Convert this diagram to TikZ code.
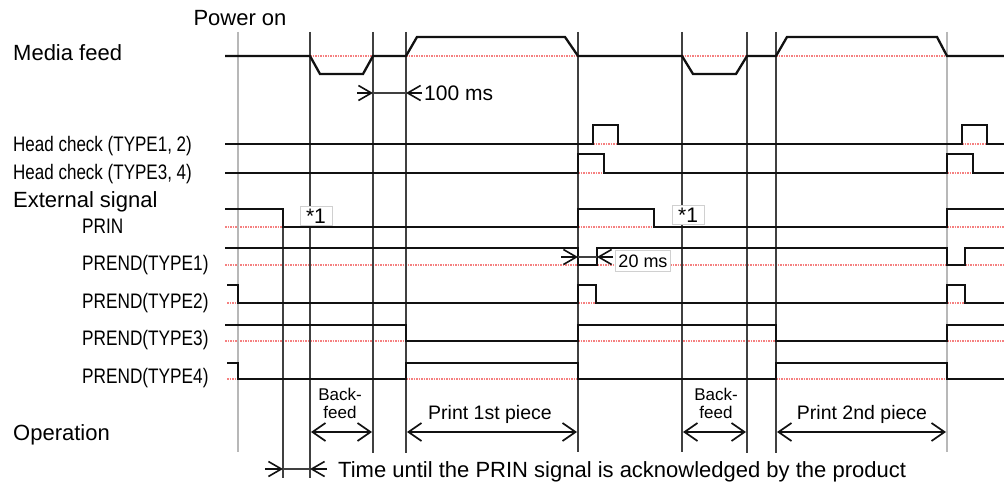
\documentclass[tikz,border=0pt]{standalone}
\usepackage{fontspec}
\setmainfont{Liberation Sans}
\usetikzlibrary{arrows.meta}
\definecolor{sigc}{HTML}{111111}
\definecolor{gridc}{HTML}{404040}
\definecolor{gridl}{HTML}{B8B8B8}
\definecolor{basec}{HTML}{F58080}
\definecolor{boxc}{HTML}{D0D0D0}
\newcommand\cnd[1]{\scalebox{0.82}[1]{#1}}
\newcommand\hcd[1]{\scalebox{0.81}[1]{#1}}
\begin{document}
\begin{tikzpicture}[x=1pt,y=-1pt,
  sig/.style={line width=2.3pt,draw=sigc,line join=miter},
  vl/.style={line width=1.2pt,draw=gridc},
  vlt/.style={line width=2.6pt,draw=gridl},
  bl/.style={line width=1.2pt,draw=basec,dash pattern=on 1.5pt off 1pt},
  lab/.style={font=\fontsize{22}{26}\selectfont,anchor=base west,inner sep=0pt},
  slab/.style={font=\fontsize{21}{24}\selectfont,anchor=base west,inner sep=0pt},
  oplab/.style={font=\fontsize{19.5}{22}\selectfont,anchor=base,inner sep=0pt},
  bflab/.style={font=\fontsize{17}{18}\selectfont,align=center,anchor=center,inner sep=0pt},
  tagbox/.style={draw=boxc,fill=white,line width=0.8pt,inner xsep=6pt,inner ysep=2pt,text depth=0pt},
  opa/.style={line width=1.7pt,draw=sigc,{Straight Barb[length=13pt,width=18pt]}-{Straight Barb[length=13pt,width=18pt]}},
  dar/.style={line width=1.6pt,draw=sigc,-{Straight Barb[length=13pt,width=15pt]}},
  dln/.style={line width=1.2pt,draw=gridc}]
\useasboundingbox (0,0) rectangle (1004,487);
\fill[white] (0,0) rectangle (1004,487);

% baselines (red dotted)
\draw[bl] (310,56) -- (373,56);
\draw[bl] (406,56) -- (578,56);
\draw[bl] (682,56) -- (747,56);
\draw[bl] (776,56) -- (947,56);
\draw[bl] (593,144) -- (618,144);
\draw[bl] (962,144) -- (987,144);
\draw[bl] (578,173) -- (604,173);
\draw[bl] (947,173) -- (973,173);
\draw[bl] (225,227) -- (283,227);
\draw[bl] (578,227) -- (654,227);
\draw[bl] (947,227) -- (1004,227);
\draw[bl] (225,265) -- (1004,265);
\draw[bl] (227,303) -- (238,303);
\draw[bl] (578,303) -- (596,303);
\draw[bl] (947,303) -- (965,303);
\draw[bl] (225,341) -- (406,341);
\draw[bl] (578,341) -- (776,341);
\draw[bl] (947,341) -- (1004,341);
\draw[bl] (227,379) -- (238,379);
\draw[bl] (406,379) -- (578,379);
\draw[bl] (776,379) -- (947,379);

% vertical lines
\draw[vlt] (238,32) -- (238,452);
\draw[vlt] (947,32) -- (947,452);
\draw[vl] (283,209) -- (283,478);
\draw[vl] (310,32) -- (310,478);
\draw[vl] (373,32) -- (373,453);
\draw[vl] (406,32) -- (406,453);
\draw[vl] (578,32) -- (578,452);
\draw[vl] (682,32) -- (682,452);
\draw[vl] (747,32) -- (747,453);
\draw[vl] (776,32) -- (776,453);

% signals
\draw[sig] (225,56) -- (310,56) -- (320,74) -- (363,74) -- (373,56) -- (406,56) -- (417,37) -- (565,37) -- (578,56) -- (682,56) -- (693,74) -- (736,74) -- (747,56) -- (776,56) -- (787,37) -- (937,37) -- (947,56) -- (1004,56);
\draw[sig] (225,144) -- (593,144) -- (593,125) -- (618,125) -- (618,144) -- (962,144) -- (962,125) -- (987,125) -- (987,144) -- (1004,144);
\draw[sig] (225,173) -- (578,173) -- (578,154) -- (604,154) -- (604,173) -- (947,173) -- (947,154) -- (973,154) -- (973,173) -- (1004,173);
\draw[sig] (225,209) -- (283,209) -- (283,227) -- (578,227) -- (578,209) -- (654,209) -- (654,227) -- (947,227) -- (947,209) -- (1004,209);
\draw[sig] (225,248) -- (578,248) -- (578,265) -- (597,265) -- (597,248) -- (947,248) -- (947,265) -- (965,265) -- (965,248) -- (1004,248);
\draw[sig] (227,285) -- (238,285) -- (238,303) -- (578,303) -- (578,285) -- (596,285) -- (596,303) -- (947,303) -- (947,285) -- (965,285) -- (965,303) -- (1004,303);
\draw[sig] (225,325) -- (406,325) -- (406,341) -- (578,341) -- (578,325) -- (776,325) -- (776,341) -- (947,341) -- (947,325) -- (1004,325);
\draw[sig] (227,363) -- (238,363) -- (238,379) -- (406,379) -- (406,363) -- (578,363) -- (578,379) -- (776,379) -- (776,363) -- (947,363) -- (947,379) -- (1004,379);

% labels
\node[lab,anchor=base] (pw) at (240,26) {Power on};
\node[lab] (mf) at (13,60) {Media feed};
\node[slab] (hc1) at (13,151) {\hcd{Head check (TYPE1, 2)}};
\node[slab] (hc2) at (13,179) {\hcd{Head check (TYPE3, 4)}};
\node[lab] (ext) at (13,207) {External signal};
\node[slab] (prin) at (82,233) {\cnd{PRIN}};
\node[slab] (pe1) at (82,270) {\cnd{PREND(TYPE1)}};
\node[slab] (pe2) at (82,308) {\cnd{PREND(TYPE2)}};
\node[slab] (pe3) at (82,345) {\cnd{PREND(TYPE3)}};
\node[slab] (pe4) at (82,383) {\cnd{PREND(TYPE4)}};
\node[lab] (op) at (13,440) {Operation};

% *1 tags
\node[tagbox,font=\fontsize{21}{22}\selectfont] (t1) at (316,216) {*1};
\node[tagbox,font=\fontsize{21}{22}\selectfont] (t2) at (688,215) {*1};

% 100 ms
\coordinate (a1) at (373,93);
\coordinate (a2) at (406,93);
\draw[dar] (357,93) -- (a1);
\draw[dln] (a1) -- (a2);
\draw[dar] (422,93) -- (a2);
\node[slab] (ms100) at (424,100) {100 ms};

% 20 ms
\coordinate (b1) at (578,257);
\coordinate (b2) at (597,257);
\draw[dar] (561,257) -- (b1);
\draw[dln] (b1) -- (b2);
\draw[dar] (613,257) -- (b2);
\node[tagbox,font=\fontsize{18}{20}\selectfont,inner xsep=3pt,inner ysep=4pt] (ms20) at (643,261) {20 ms};

% operation
\node[bflab] (bf1) at (340,403) {Back-\\feed};
\node[bflab] (bf2) at (716,403) {Back-\\feed};
\node[oplab] (pp1) at (490,419) {Print 1st piece};
\node[oplab] (pp2) at (862,419) {Print 2nd piece};
\coordinate (o1) at (311,432); \coordinate (o2) at (372,432);
\coordinate (o3) at (407,432); \coordinate (o4) at (577,432);
\coordinate (o5) at (683,432); \coordinate (o6) at (746,432);
\coordinate (o7) at (777,432); \coordinate (o8) at (946,432);
\draw[opa] (o1) -- (o2);
\draw[opa] (o3) -- (o4);
\draw[opa] (o5) -- (o6);
\draw[opa] (o7) -- (o8);

% bottom
\coordinate (c1) at (283,469);
\coordinate (c2) at (310,469);
\draw[dar] (265,469) -- (c1);
\draw[dln] (c1) -- (c2);
\draw[dar] (327,469) -- (c2);
\node[lab] (tm) at (338,477) {Time until the PRIN signal is acknowledged by the product};
\end{tikzpicture}
\end{document}
